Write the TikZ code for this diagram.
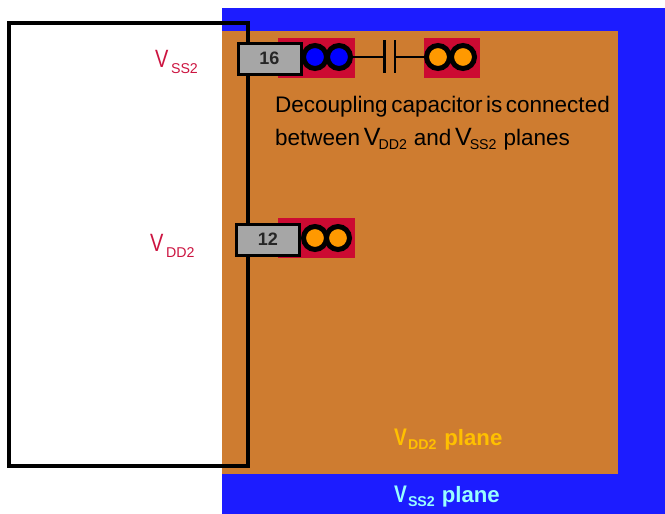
\documentclass[tikz,border=0pt]{standalone}
\usepackage{fontspec}
\setmainfont{Liberation Sans}
\newfontfamily\notefont[WordSpace=0.57]{Liberation Sans}
\newfontfamily\narrowfont[FakeStretch=0.8]{Liberation Sans}
\definecolor{planeblue}{HTML}{1C1CFF}
\definecolor{planeorange}{HTML}{CE7C30}
\definecolor{padred}{HTML}{CC0A32}
\definecolor{pingray}{HTML}{A6A6A6}
\definecolor{viaorange}{HTML}{FF9900}
\definecolor{viablue}{HTML}{0000FF}
\definecolor{vddyellow}{HTML}{FFC000}
\definecolor{vsscyan}{HTML}{99FFFF}
\definecolor{labelred}{HTML}{CC1440}
\newcommand{\sizedtext}[2]{\fontsize{#1}{#1}\selectfont #2}
% V of a given size, then a lowered subscript: #1 V font, #2 gap, #3 drop, #4 name
\newcommand{\railname}[4]{{#1V}\hspace{#2}\raisebox{-#3}{\sizedtext{14.2}{#4}}}
\newcommand{\pwrrail}[1]{\railname{\narrowfont\sizedtext{25}{}}{2.5pt}{6.3pt}{#1}}
\newcommand{\noterail}[1]{\railname{\sizedtext{25}{}}{-2pt}{4pt}{#1}\hspace{3.5pt}}
\newcommand{\planerail}[1]{\railname{\narrowfont\bfseries\sizedtext{24}{}}{1pt}{4pt}{#1}}
\newcommand{\pinnum}[1]{\raisebox{1.8pt}{#1}}
\tikzset{
  x=1pt,y=-1pt,
  plane/.style={fill=#1,draw=none},
  pad/.style={fill=padred,draw=none},
  pinbox/.style={draw=black,line width=3pt,fill=pingray,minimum width=63pt,minimum height=31pt,inner sep=0pt,font=\bfseries\sizedtext{18}{},text=black!85},
  via/.style={circle,draw=black,line width=5pt,fill=#1,minimum size=23pt,inner sep=0pt},
  wire/.style={draw=black,line width=1.6pt},
  plate/.style={draw=black,line width=2.4pt},
  pwr/.style={text=labelred,inner sep=0pt,anchor=base west},
  note/.style={text=black,font=\notefont\sizedtext{22.5}{},inner sep=0pt,anchor=base west},
  planelabel/.style={font=\bfseries\sizedtext{22.2}{},inner sep=0pt,anchor=base west,text=#1},
}
\begin{document}
\begin{tikzpicture}
\useasboundingbox (0,0) rectangle (665,514);
\fill[white] (0,0) rectangle (665,514);
\path[plane=planeblue] (222,8) rectangle (665,514);
\path[plane=planeorange] (222,31) rectangle (618,474);
\draw[line width=4.5pt,line join=miter] (9,23) rectangle (248,466);
\path[pad] (278,38) rectangle (355,78);
\path[pad] (424,38) rectangle (480,78);
\path[pad] (278,218) rectangle (355,258);
\node[via=viablue] (v1) at (315,57) {};
\node[via=viablue] (v2) at (339,57) {};
\node[via=viaorange] (v3) at (438,57) {};
\node[via=viaorange] (v4) at (463,57) {};
\node[via=viaorange] (v5) at (315,238) {};
\node[via=viaorange] (v6) at (338,238) {};
\node[pinbox] (p16) at (269.5,59) {\pinnum{16}};
\node[pinbox] (p12) at (268,240) {\pinnum{12}};
\coordinate (c1) at (384.5,57);
\coordinate (c2) at (395,57);
\draw[plate] (384.5,40) -- (384.5,73);
\draw[plate] (395,40) -- (395,73);
\draw[wire] (v2) -- (c1);
\draw[wire] (c2) -- (v3);
\node[pwr] (vss) at (155,67) {\pwrrail{SS2}};
\node[pwr] (vdd) at (150,251) {\pwrrail{DD2}};
\node[note] (n1) at (275,112.6) {Decoupling capacitor is connected};
\node[note] (n2) at (275,145) {between \noterail{DD2} and \noterail{SS2} planes};
\node[planelabel=vddyellow] (l1) at (394,445) {\planerail{DD2}\hspace{8pt}plane};
\node[planelabel=vsscyan] (l2) at (394,502) {\planerail{SS2}\hspace{7pt}plane};
\end{tikzpicture}
\end{document}
